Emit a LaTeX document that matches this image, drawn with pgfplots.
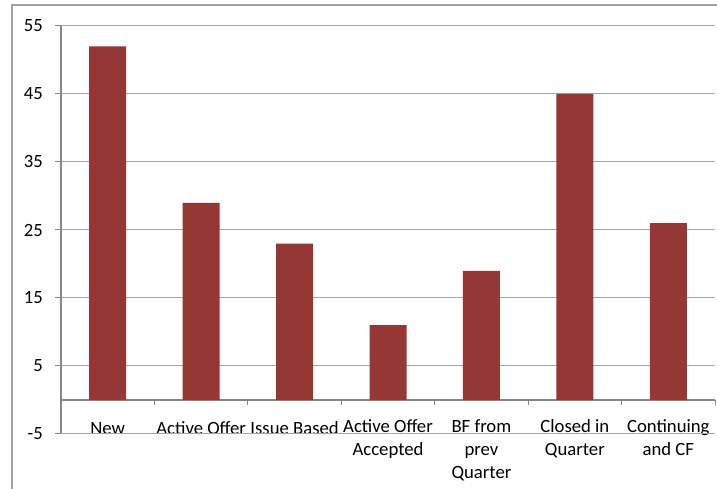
\documentclass[border=0pt]{standalone}
\usepackage{fontspec}
\setmainfont{Carlito}
\usepackage{pgfplots}
\pgfplotsset{compat=1.18}
\definecolor{barred}{RGB}{149,55,53}
\definecolor{gridgray}{RGB}{166,166,166}
\definecolor{axisgray}{RGB}{134,134,134}
\definecolor{framegray}{RGB}{160,160,160}
\begin{document}
\fontsize{18.7}{23.3}\selectfont
\begin{tikzpicture}
\useasboundingbox (0pt,0pt) rectangle (717pt,489pt);
% chart area frame
\draw[framegray, line width=1.2pt] (12pt,0pt) -- (12pt,484pt) -- (717pt,484pt);
\begin{axis}[
  at={(61pt,55pt)}, anchor=south west,
  width=654pt, height=408pt, scale only axis,
  xmin=-0.5, xmax=6.5, ymin=-5, ymax=55,
  axis x line*=middle, axis y line*=left,
  x axis line style={axisgray, line width=1.5pt},
  y axis line style={axisgray, line width=1.5pt},
  ytick={-5,5,15,25,35,45,55},
  ymajorgrids,
  major grid style={gridgray, line width=1pt},
  ytick style={axisgray, line width=1pt},
  tick align=outside,
  major tick length=6pt,
  minor tick length=5pt,
  /pgf/number format/assume math mode=true,
  tick label style={font=\fontsize{18.7}{23.3}\selectfont, black},
  yticklabel style={inner sep=0pt, anchor=east, xshift=-12pt},
  xtick={0,1,2,3,4,5,6},
  xticklabels={New, Active Offer, Issue Based, {Active Offer\\Accepted}, {BF from\\prev\\Quarter}, {Closed in\\Quarter}, {Continuing\\and CF}},
  xticklabel style={align=center, anchor=north, inner sep=0pt, yshift=-13pt,
    execute at begin node={\rule{0pt}{15pt}}},
  major x tick style={draw=none},
  % category separators on the zero line
  minor xtick={-0.5,0.5,1.5,2.5,3.5,4.5,5.5,6.5},
  minor x tick style={draw=axisgray, line width=1pt},
  ybar, bar width=37pt,
  clip=false,
]
\addplot[fill=barred, draw=none] coordinates {
  (0,52) (1,29) (2,23) (3,11) (4,19) (5,45) (6,26)
};
% bottom rule of the plot area
\draw[gridgray, line width=1pt] (axis cs:-0.5,-5) -- (axis cs:6.5,-5);
\end{axis}
\end{tikzpicture}
\end{document}
